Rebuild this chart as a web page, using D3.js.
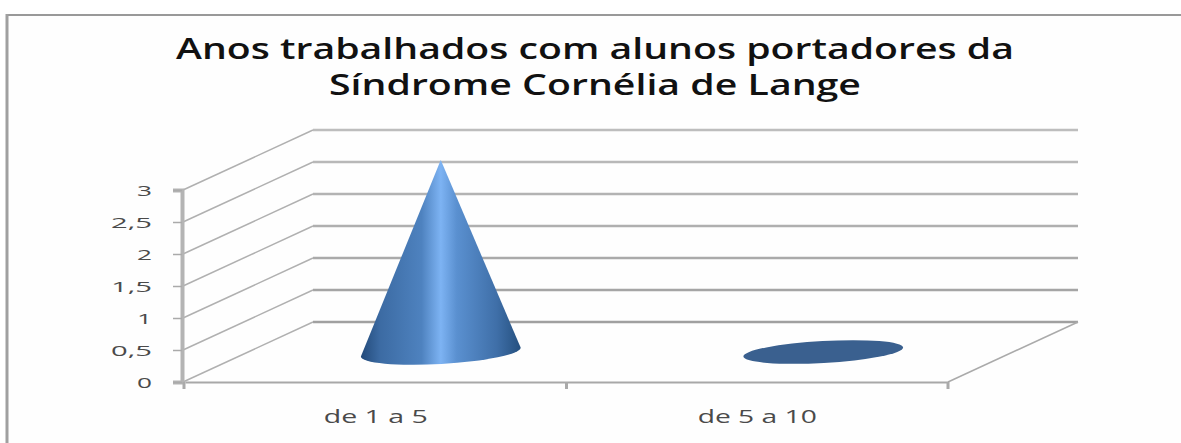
<!DOCTYPE html>
<html>
<head>
<meta charset="utf-8">
<script src="https://cdn.jsdelivr.net/npm/d3@7/dist/d3.min.js"></script>
<style>
html,body{margin:0;padding:0;background:#fff}
svg{display:block}
text{font-family:"Open Sans",sans-serif}
</style>
</head>
<body>
<div id="chart"></div>
<script>
const titleLines = ["Anos trabalhados com alunos portadores da", "Síndrome Cornélia de Lange"];
const categories = ["de 1 a 5", "de 5 a 10"];
const values = [3, 0];
const yTicks = [0, 0.5, 1, 1.5, 2, 2.5, 3];

const width = 1181, height = 443;
const plot = {left: 185, right: 948, bottom: 382, top: 190};
const depth = {dx: 130, dy: -60};
const base = {rx: 80, ry: 12, tilt: -3.2};

const svg = d3.select("#chart").append("svg").attr("width", width).attr("height", height);

// Frame around the chart area
svg.append("rect").attr("x", 7).attr("y", 15).attr("width", width - 7).attr("height", height - 15).attr("fill", "#fefefe");
svg.append("line").attr("x1", 6).attr("x2", width).attr("y1", 15).attr("y2", 15).attr("stroke", "#999").attr("stroke-width", 2);
svg.append("line").attr("x1", 7).attr("x2", 7).attr("y1", 14).attr("y2", height).attr("stroke", "#a0a0a0").attr("stroke-width", 3);

// Title, two lines stretched to the chart's wide proportions
const titleSpec = [{y: 59, len: 838}, {y: 95, len: 532}];
svg.selectAll("text.title").data(titleLines).join("text")
  .attr("class", "title")
  .attr("x", 595)
  .attr("y", (d, i) => titleSpec[i].y)
  .attr("text-anchor", "middle")
  .attr("font-size", 29)
  .attr("font-weight", 600)
  .attr("fill", "#111")
  .attr("textLength", (d, i) => titleSpec[i].len)
  .attr("lengthAdjust", "spacingAndGlyphs")
  .text(d => d);

const y = d3.scaleLinear().domain([0, 3]).range([plot.bottom, plot.top]);
const x = d3.scaleBand().domain(categories).range([plot.left, plot.right]);

// Back wall gridlines and side wall diagonals
const grid = svg.append("g");
grid.selectAll("line.back").data(yTicks).join("line")
  .attr("class", "back")
  .attr("x1", plot.left + depth.dx - 2).attr("x2", plot.right + depth.dx)
  .attr("y1", d => y(d) + depth.dy).attr("y2", d => y(d) + depth.dy)
  .attr("stroke", d => d3.interpolateRgb("#a0a0a0", "#bdbdbd")(d / 3))
  .attr("stroke-width", 2.4);
grid.selectAll("line.side").data(yTicks).join("line")
  .attr("class", "side")
  .attr("x1", plot.left - 2).attr("x2", plot.left + depth.dx - 2)
  .attr("y1", d => y(d)).attr("y2", d => y(d) + depth.dy)
  .attr("stroke", "#b0b0b0").attr("stroke-width", 1.5);
grid.append("line")
  .attr("x1", plot.right).attr("x2", plot.right + depth.dx)
  .attr("y1", y(0)).attr("y2", y(0) + depth.dy)
  .attr("stroke", "#aaa").attr("stroke-width", 1.5);

// Axes
const yAxis = d3.axisLeft(y).tickValues(yTicks).tickSize(9).tickPadding(21)
  .tickFormat(d => String(d).replace(".", ","));
const gy = svg.append("g").attr("transform", `translate(${plot.left - 3},0)`).call(yAxis);
gy.select(".domain").attr("stroke", "#b4b4b4").attr("stroke-width", 4);
gy.selectAll(".tick line").attr("stroke", "#aaa").attr("stroke-width", 1.5);
gy.selectAll(".tick text")
  .attr("font-size", 15).attr("fill", "#4a4a4a").attr("font-family", "DejaVu Sans, sans-serif")
  .attr("dy", "0.36em")
  .attr("lengthAdjust", "spacingAndGlyphs")
  .attr("textLength", d => Number.isInteger(d) ? 15 : 41);

const xAxis = d3.axisBottom(x).tickSize(0).tickPadding(28);
const gx = svg.append("g").attr("transform", `translate(0,${plot.bottom})`).call(xAxis);
gx.select(".domain").attr("stroke", "#a8a8a8").attr("stroke-width", 2);
gx.selectAll(".tick text")
  .attr("font-size", 18).attr("fill", "#4a4a4a").attr("font-family", "DejaVu Sans, sans-serif")
  .attr("textLength", (d, i) => i === 0 ? 104 : 119)
  .attr("lengthAdjust", "spacingAndGlyphs");
svg.append("g").selectAll("line")
  .data([plot.left - 1, x(categories[1]), plot.right]).join("line")
  .attr("x1", d => d).attr("x2", d => d)
  .attr("y1", plot.bottom).attr("y2", plot.bottom + 7)
  .attr("stroke", "#aaa").attr("stroke-width", 3);

// Horizontal sheen across the cone
const defs = svg.append("defs");
const sheen = defs.append("linearGradient").attr("id", "coneSheen");
[[0, "#234a7a"], [0.12, "#3c6ba3"], [0.38, "#4e82bf"], [0.5, "#7db3f3"], [0.6, "#5a90d0"], [0.85, "#3f6fa8"], [1, "#25507f"]]
  .forEach(([o, c]) => sheen.append("stop").attr("offset", o).attr("stop-color", c));

// Cones stand halfway into the floor depth
const rad = base.tilt * Math.PI / 180;
const conePath = d => {
  const cx = x(d.cat) + x.bandwidth() / 2 + depth.dx / 2;
  const cy = y(0) + depth.dy / 2;
  const ex = base.rx * Math.cos(rad), ey = base.rx * Math.sin(rad);
  return `M${cx},${y(d.val) + depth.dy / 2}L${cx - ex},${cy - ey}` +
    `A${base.rx},${base.ry} ${base.tilt} 0 0 ${cx + ex},${cy + ey}Z`;
};
const marks = categories.map((cat, i) => ({cat, val: values[i]}));
svg.append("g").selectAll("path").data(marks.filter(d => d.val > 0)).join("path")
  .attr("d", conePath).attr("fill", "url(#coneSheen)");

// A zero-height cone shows only its base disc
svg.append("g").selectAll("ellipse").data(marks.filter(d => d.val === 0)).join("ellipse")
  .attr("rx", base.rx).attr("ry", base.ry - 1)
  .attr("transform", d => `translate(${x(d.cat) + x.bandwidth() / 2 + depth.dx / 2 + 1},${y(0) + depth.dy / 2}) rotate(${base.tilt})`)
  .attr("fill", "#3a608f");
</script>
</body>
</html>
